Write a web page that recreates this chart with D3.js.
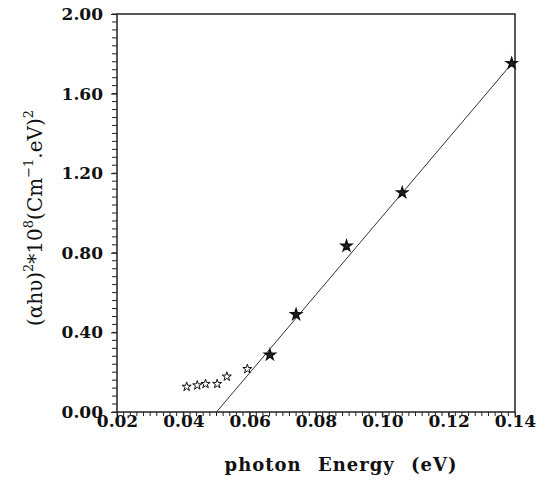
<!DOCTYPE html>
<html>
<head>
<meta charset="utf-8">
<script src="https://cdn.jsdelivr.net/npm/d3@7"></script>
<style>
  body { margin: 0; background: #fff; }
  text { font-family: "DejaVu Serif", serif; fill: #111; }
</style>
</head>
<body>
<svg id="chart" width="536" height="481"></svg>
<script>
// measured points
const energy = [0.0410, 0.0442, 0.0467, 0.0502, 0.0531, 0.0593, 0.0661, 0.0740, 0.0892, 0.1060, 0.1390];
const absorb = [0.127, 0.134, 0.141, 0.141, 0.178, 0.216, 0.287, 0.490, 0.834, 1.102, 1.752];
// linear fit ends
const fitX = [0.050, 0.139];
const fitY = [0.0, 1.75];
const xTicks = [0.02, 0.04, 0.06, 0.08, 0.10, 0.12, 0.14];
const yTicks = [0.00, 0.40, 0.80, 1.20, 1.60, 2.00];

const svg = d3.select("#chart");
const pLeft = 117, pRight = 515, pTop = 14, pBottom = 412;

const x = d3.scaleLinear().domain([0.02, 0.14]).range([pLeft, pRight]);
const y = d3.scaleLinear().domain([0, 2]).range([pBottom, pTop]);

// frame
svg.append("rect")
  .attr("x", pLeft).attr("y", pTop)
  .attr("width", pRight - pLeft).attr("height", pBottom - pTop)
  .attr("fill", "none").attr("stroke", "#222").attr("stroke-width", 1.5);

// minor ticks
const xMinor = d3.range(0.02, 0.1401, 0.002);
svg.append("g").selectAll("line").data(xMinor).enter().append("line")
  .attr("x1", d => x(d)).attr("x2", d => x(d))
  .attr("y1", pBottom).attr("y2", pBottom + 4)
  .attr("stroke", "#222").attr("stroke-width", 1);

const yMinor = d3.range(0, 2.001, 0.04);
svg.append("g").selectAll("line").data(yMinor).enter().append("line")
  .attr("x1", pLeft - 5).attr("x2", pLeft)
  .attr("y1", d => y(d)).attr("y2", d => y(d))
  .attr("stroke", "#222").attr("stroke-width", 1);

// axes labels via d3 axes
const xAxis = svg.append("g")
  .attr("transform", `translate(0,${pBottom})`)
  .call(d3.axisBottom(x).tickValues(xTicks).tickSize(5).tickFormat(d3.format(".2f")));
xAxis.select(".domain").remove();
xAxis.selectAll("line").attr("stroke", "#222");
xAxis.selectAll("text")
  .attr("dy", "0.71em").attr("y", 3)
  .style("font-family", "DejaVu Serif").style("font-size", "17px").style("font-weight", "bold").attr("fill", "#111");

const yAxis = svg.append("g")
  .attr("transform", `translate(${pLeft},0)`)
  .call(d3.axisLeft(y).tickValues(yTicks).tickSize(6).tickFormat(d3.format(".2f")));
yAxis.select(".domain").remove();
yAxis.selectAll("line").attr("stroke", "#222");
yAxis.selectAll("text")
  .attr("x", -14)
  .style("font-family", "DejaVu Serif").style("font-size", "17px").style("font-weight", "bold").attr("fill", "#111");

// fit line
const fit = fitX.map((d, i) => [d, fitY[i]]);
svg.append("path")
  .datum(fit)
  .attr("d", d3.line().x(d => x(d[0])).y(d => y(d[1])))
  .attr("fill", "none").attr("stroke", "#333").attr("stroke-width", 1);

// stars
const pts = energy.map((d, i) => ({ e: d, a: absorb[i] }));
svg.append("g").selectAll("path").data(pts).enter().append("path")
  .attr("transform", d => `translate(${x(d.e)},${y(d.a)})`)
  .attr("d", (d, i) => d3.symbol().type(d3.symbolStar).size(i < 6 ? 26 : 34)())
  .attr("fill", (d, i) => i < 6 ? "#fff" : "#222")
  .attr("stroke", "#111")
  .attr("stroke-width", (d, i) => i < 6 ? 1 : 1.5);

// x title
svg.append("text")
  .attr("x", 341).attr("y", 471)
  .attr("text-anchor", "middle")
  .style("font-size", "18px").style("font-weight", "bold")
  .style("letter-spacing", "1px")
  .style("word-spacing", "9px")
  .text("photon Energy (eV)");

// y title
const yt = svg.append("text")
  .attr("transform", "translate(42,218) rotate(-90)")
  .attr("text-anchor", "middle")
  .style("font-size", "20px");
yt.append("tspan").text("(αhυ)");
yt.append("tspan").attr("dy", -9).style("font-size", "13px").text("2");
yt.append("tspan").attr("dy", 9).text("*10");
yt.append("tspan").attr("dy", -9).style("font-size", "13px").text("8");
yt.append("tspan").attr("dy", 9).text("(Cm");
yt.append("tspan").attr("dy", -9).style("font-size", "13px").text("−1");
yt.append("tspan").attr("dy", 9).text(".eV)");
yt.append("tspan").attr("dy", -9).style("font-size", "13px").text("2");
</script>
</body>
</html>
